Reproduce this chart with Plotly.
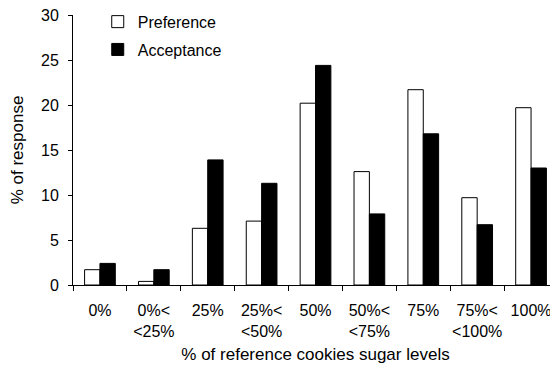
import plotly.graph_objects as go

categories = ["0%", "0%<\n<25%", "25%", "25%<\n<50%", "50%", "50%<\n<75%", "75%", "75%<\n<100%", "100%"]
preference = [1.7, 0.4, 6.3, 7.1, 20.2, 12.6, 21.7, 9.7, 19.7]
acceptance = [2.4, 1.7, 13.9, 11.3, 24.4, 7.9, 16.8, 6.7, 13.0]
y_ticks = [0, 5, 10, 15, 20, 25, 30]

tick_text = [c.replace("<", "&lt;").replace("\n", "<br>") for c in categories]
FONT = "Arial, 'Liberation Sans', sans-serif"

fig = go.Figure()
fig.add_trace(go.Bar(x=categories, y=preference, name="Preference",
                     marker=dict(color="white", line=dict(color="black", width=1)),
                     legendgroup="p"))
fig.add_trace(go.Bar(x=categories, y=acceptance, name="Acceptance",
                     marker=dict(color="black", line=dict(color="black", width=1)),
                     legendgroup="a"))

# page body has an 8px default margin, so the figure is sized/offset to compensate
fig.update_layout(
    width=550, height=361,
    margin=dict(l=65, r=0, t=7, b=84, autoexpand=False),
    paper_bgcolor="white", plot_bgcolor="white",
    font=dict(family=FONT, size=16, color="black"),
    barmode="group", bargap=0.43, bargroupgap=0,
    showlegend=True,
    legend=dict(x=0.051, y=1.038, xanchor="left", yanchor="top",
                bgcolor="rgba(0,0,0,0)", font=dict(size=16),
                traceorder="grouped", tracegroupgap=4),
    xaxis=dict(
        tickmode="array", tickvals=categories, ticktext=tick_text,
        tickson="boundaries", ticks="outside", ticklen=5, tickcolor="black",
        tickangle=0, automargin=False, ticklabelstandoff=11, ticklabeloverflow="allow",
        showline=True, linecolor="black", linewidth=1, showgrid=False,
        title=dict(text="% of reference cookies sugar levels", font=dict(size=17), standoff=9),
    ),
    yaxis=dict(
        range=[0, 30], tickvals=y_ticks, ticks="outside", ticklen=4, tickcolor="black",
        automargin=False, ticklabelstandoff=6, ticklabeloverflow="allow",
        showline=True, linecolor="black", linewidth=1, showgrid=False, zeroline=False,
        title=dict(text="% of response", font=dict(size=17), standoff=14),
    ),
)

fig.write_html("out.html")
